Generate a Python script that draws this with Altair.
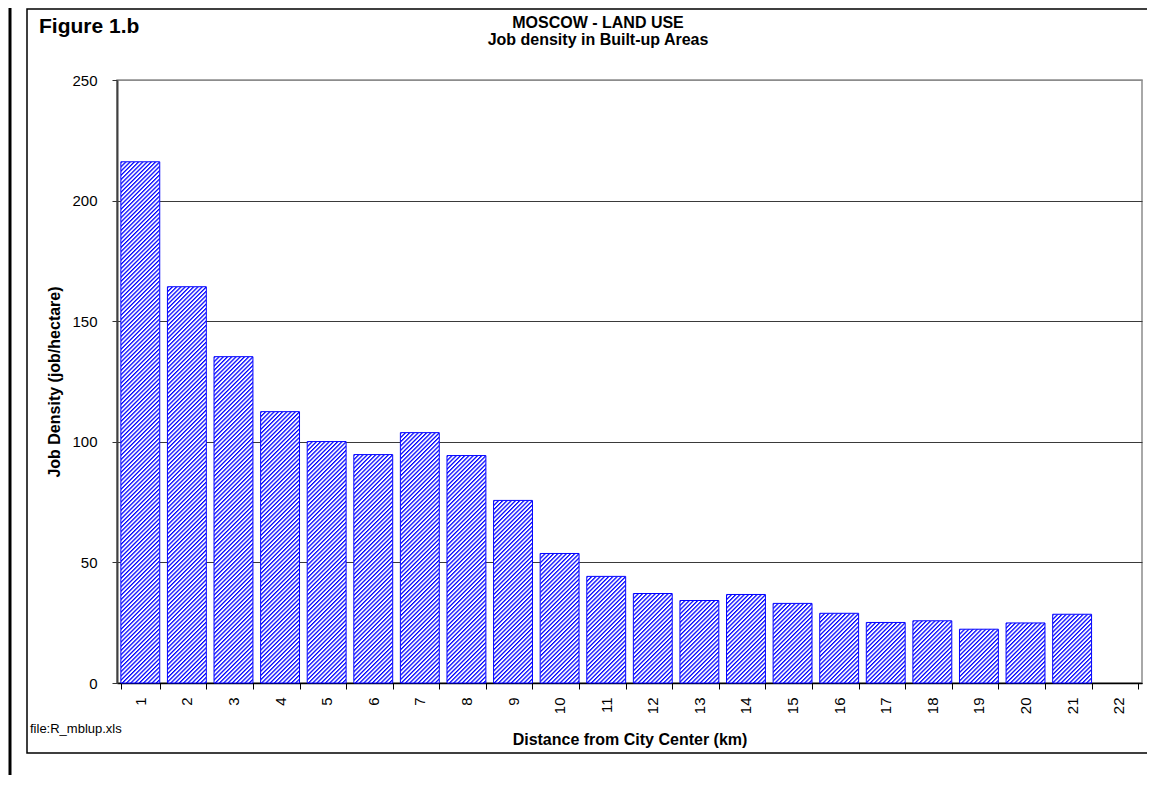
import base64
import altair as alt
import pandas as pd

# ---- data ----
distance_km = [str(i) for i in range(1, 23)]
job_density = [216.1, 164.3, 135.3, 112.5, 100.1, 94.7, 103.8, 94.3, 75.7, 53.7,
               44.2, 37.1, 34.2, 36.7, 33.0, 28.9, 25.1, 25.8, 22.3, 24.9, 28.5, None]
y_ticks = [0, 50, 100, 150, 200, 250]

title_lines = ["MOSCOW - LAND USE", "Job density in Built-up Areas"]
figure_label = "Figure 1.b"
file_label = "file:R_mblup.xls"
x_title = "Distance from City Center (km)"
y_title = "Job Density (job/hectare)"

rows = [{"distance": d, "density": v} for d, v in zip(distance_km, job_density) if v is not None]
df = pd.DataFrame(rows)

FONT = "Liberation Sans"
W, H = 1025, 603

# hatch pattern (blue diagonal lines) as an SVG image sized to each bar
hatch_svg = (
    "<svg xmlns='http://www.w3.org/2000/svg' width='100%' height='100%'>"
    "<defs><pattern id='h' width='3.0' height='10' patternUnits='userSpaceOnUse' "
    "patternTransform='rotate(45)'><rect width='1.25' height='10' fill='#0000ff'/></pattern></defs>"
    "<rect width='100%' height='100%' fill='url(#h)'/></svg>"
)
hatch_uri = "data:image/svg+xml;base64," + base64.b64encode(hatch_svg.encode()).decode()

x_enc = alt.X(
    "distance:N",
    scale=alt.Scale(domain=distance_km, paddingInner=0.165, paddingOuter=0.0825),
    axis=alt.Axis(
        title=x_title, labelAngle=270, labelFontSize=15, labelColor="black",
        labelPadding=8, tickBand="extent", tickSize=6, tickColor="black",
        domainColor="black", domainWidth=1.5, titleFontSize=16, titleFontWeight="bold",
        titleColor="black", titleBaseline="alphabetic", titleY=61, grid=False,
    ),
)
y_enc = alt.Y(
    "density:Q",
    scale=alt.Scale(domain=[0, 250], nice=False),
    axis=alt.Axis(
        values=y_ticks, title=y_title, labelFontSize=15, labelColor="black",
        labelPadding=15, tickSize=5, tickColor="#333333", domainColor="#404040",
        domainWidth=2, grid=True,
        gridColor={"condition": {"test": "datum.value === 250", "value": "#8c8c8c"}, "value": "#3a3a3a"},
        gridWidth=1, titleFontSize=16, titleFontWeight="bold", titleColor="black",
        titleAngle=270, titleBaseline="alphabetic", titleX=-58, titleY=H / 2,
    ),
)

base = alt.Chart(df).encode(x=x_enc, y=y_enc)
bar_bg = base.mark_bar(fill="white")
bar_hatch = base.mark_image(aspect=False).encode(y2=alt.datum(0), url=alt.value(hatch_uri))
bar_outline = base.mark_bar(fillOpacity=0, stroke="#0000ff", strokeWidth=1)

one = alt.Data(values=[{}])

def label(text, x, y, size, weight="normal", align="left"):
    return alt.Chart(one).mark_text(
        font=FONT, fontSize=size, fontWeight=weight, align=align,
        baseline="alphabetic", color="black"
    ).encode(x=alt.value(x), y=alt.value(y), text=alt.value(text))

frame = alt.Chart(one).mark_rect(fillOpacity=0, stroke="black", strokeWidth=1.5).encode(
    x=alt.value(-90), x2=alt.value(1100), y=alt.value(-71), y2=alt.value(673)
)
left_edge = alt.Chart(one).mark_rule(color="black", strokeWidth=3).encode(
    x=alt.value(-107), y=alt.value(-80), y2=alt.value(700)
)

chart = alt.layer(
    frame,
    left_edge,
    bar_bg,
    bar_hatch,
    bar_outline,
    label(title_lines[0], 481, -52, 16, "bold", "center"),
    label(title_lines[1], 481, -35, 16, "bold", "center"),
    label(figure_label, -78, -47, 21, "bold"),
    label(file_label, -87, 653, 13),
).properties(
    width=W, height=H,
    padding={"left": 109, "top": 72, "right": 5, "bottom": 92},
    autosize=alt.AutoSizeParams(type="none"),
).configure(font=FONT).configure_view(stroke="#8c8c8c", strokeWidth=1.5)

chart.save("out.html", embed_options={"renderer": "svg", "actions": False})
